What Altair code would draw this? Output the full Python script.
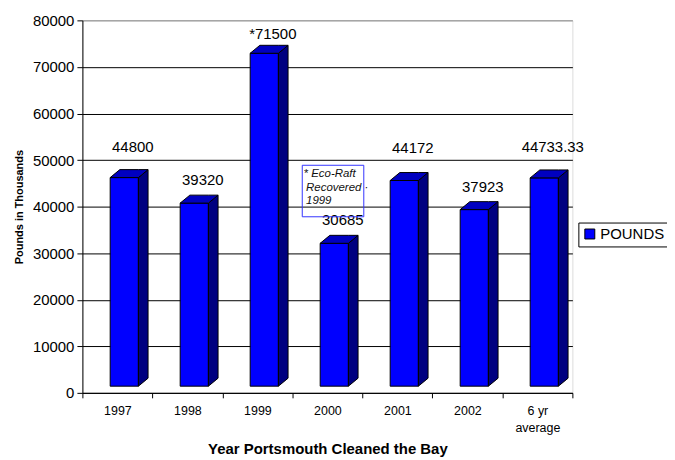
import json
import altair as alt
import pandas as pd

# ---------------- data ----------------
categories = ["1997", "1998", "1999", "2000", "2001", "2002", "6 yr average"]
pounds = [44800, 39320, 71500, 30685, 44172, 37923, 44733.33]
value_labels = ["44800", "39320", "*71500", "30685", "44172", "37923", "44733.33"]
axis_labels = ["1997", "1998", "1999", "2000", "2001", "2002", ["6 yr", "average"]]
series_name = "POUNDS"
note_lines = ["* Eco-Raft", "Recovered \u00b7", "1999"]

# ---------------- style / geometry ----------------
W, H = 492, 374
N = len(categories)
Y_MAX = 80000
UX = N / W          # x data units per pixel
UY = Y_MAX / H      # y data units per pixel
FRONT_L, FRONT_R = 0.397, 0.80
DEPTH = 9.7 * UX
RISE = 8.0 * UY
BASE = 6.7 * UY
label_lift_px = [26, 18, 14, 18, 28, 18, 26]
label_dx = 0.72
FONT = "Liberation Sans"

front_rows, side_rows, top_rows, lab_rows = [], [], [], []
for i, (c, v) in enumerate(zip(categories, pounds)):
    xl, xr = i + FRONT_L, i + FRONT_R
    front_rows.append(dict(cat=c, x=xl, x2=xr, y=BASE, y2=v + BASE, series=series_name))
    side_rows += [
        dict(cat=c, x=xr, lo=BASE, hi=v + BASE),
        dict(cat=c, x=xr + DEPTH, lo=BASE + RISE, hi=v + BASE + RISE),
    ]
    t = v + BASE
    top_rows += [
        dict(cat=c, x=xl, lo=t, hi=t),
        dict(cat=c, x=xl + DEPTH, lo=t, hi=t + RISE),
        dict(cat=c, x=xr, lo=t, hi=t + RISE),
        dict(cat=c, x=xr + DEPTH, lo=t + RISE, hi=t + RISE),
    ]
    lab_rows.append(dict(cat=c, x=i + label_dx, y=t + label_lift_px[i] * UY, label=value_labels[i]))

front = pd.DataFrame(front_rows)
side = pd.DataFrame(side_rows)
top = pd.DataFrame(top_rows)
labs = pd.DataFrame(lab_rows)

# annotation box (data coordinates)
note_box = pd.DataFrame([dict(x=3.141, x2=4.02, y=37818, y2=48877)])
note_text = pd.DataFrame([
    dict(x=3.16, y=46374, t=note_lines[0]),
    dict(x=3.195, y=43316, t=note_lines[1]),
    dict(x=3.195, y=40471, t=note_lines[2]),
])

xscale = alt.Scale(domain=[0, N], nice=False, zero=False)
yscale = alt.Scale(domain=[0, Y_MAX], nice=False)

label_expr = json.dumps(axis_labels + [""]) + "[datum.value]"
xaxis = alt.Axis(
    values=list(range(N + 1)), labelExpr=label_expr, labelOffset=W / N / 2,
    tickSize=5, tickColor="black", domainColor="black", grid=False,
    labelFont=FONT, labelFontSize=12.5, labelColor="black", labelPadding=7,
    labelFlush=False, labelOverlap=False, labelLineHeight=16.5,
    title="Year Portsmouth Cleaned the Bay", titleFont=FONT, titleFontSize=15,
    titleFontWeight="bold", titleColor="black", titlePadding=8,
)
yaxis = alt.Axis(
    values=list(range(0, Y_MAX + 1, 10000)), format="d", tickSize=5.5, tickColor="black",
    domainColor="black", grid=True,
    gridColor={"condition": {"test": "datum.value >= 80000", "value": "#808080"}, "value": "#000000"},
    gridOpacity=1, labelFont=FONT, labelFontSize=15, labelColor="black", labelPadding=3,
    title="Pounds in Thousands", titleFont=FONT, titleFontSize=11, titleFontWeight="bold",
    titleColor="black", titlePadding=8,
)

X = lambda f="x": alt.X(f"{f}:Q", scale=xscale, axis=xaxis)

front_layer = alt.Chart(front).mark_rect(stroke="black", strokeWidth=1).encode(
    x=X(), x2="x2:Q",
    y=alt.Y("y:Q", scale=yscale, axis=yaxis), y2="y2:Q",
    color=alt.Color("series:N", scale=alt.Scale(domain=[series_name], range=["#0000FF"]),
                    legend=alt.Legend(title=None, orient="none", legendX=498, legendY=203,
                                      symbolType="square", symbolSize=100,
                                      symbolStrokeColor="black", symbolStrokeWidth=1,
                                      labelFont=FONT, labelFontSize=15, labelColor="black",
                                      labelOffset=3, padding=4, strokeColor="black",
                                      fillColor="white")),
)

side_layer = alt.Chart(side).mark_area(color="#000080", stroke="black", strokeWidth=1, opacity=1).encode(
    x=X(), y=alt.Y("lo:Q", scale=yscale, axis=yaxis), y2="hi:Q", detail="cat:N",
)
top_layer = alt.Chart(top).mark_area(color="#0000C0", stroke="black", strokeWidth=1, opacity=1).encode(
    x=X(), y=alt.Y("lo:Q", scale=yscale, axis=yaxis), y2="hi:Q", detail="cat:N",
)

label_layer = alt.Chart(labs).mark_text(font=FONT, fontSize=15, color="black",
                                         align="center", baseline="alphabetic").encode(
    x=X(), y=alt.Y("y:Q", scale=yscale, axis=yaxis), text="label:N",
)

box_layer = alt.Chart(note_box).mark_rect(filled=False, stroke="#3333FF", strokeWidth=1).encode(
    x=X(), x2="x2:Q", y=alt.Y("y:Q", scale=yscale, axis=yaxis), y2="y2:Q",
)
note_layer = alt.Chart(note_text).mark_text(font=FONT, fontSize=11.5, fontStyle="italic",
                                             color="#111111", align="left",
                                             baseline="alphabetic").encode(
    x=X(), y=alt.Y("y:Q", scale=yscale, axis=yaxis), text="t:N",
)

chart = alt.layer(
    front_layer, side_layer, top_layer, label_layer, box_layer, note_layer
).properties(
    width=W, height=H,
    autosize=alt.AutoSizeParams(type="none"),
    padding={"left": 74.7, "top": 11.5, "right": 95, "bottom": 66},
).configure_view(
    fill="#C0C0C0", stroke="#808080", strokeWidth=1,
).configure(background="white")

chart.save("out.html", embed_options={"renderer": "svg", "actions": False})
